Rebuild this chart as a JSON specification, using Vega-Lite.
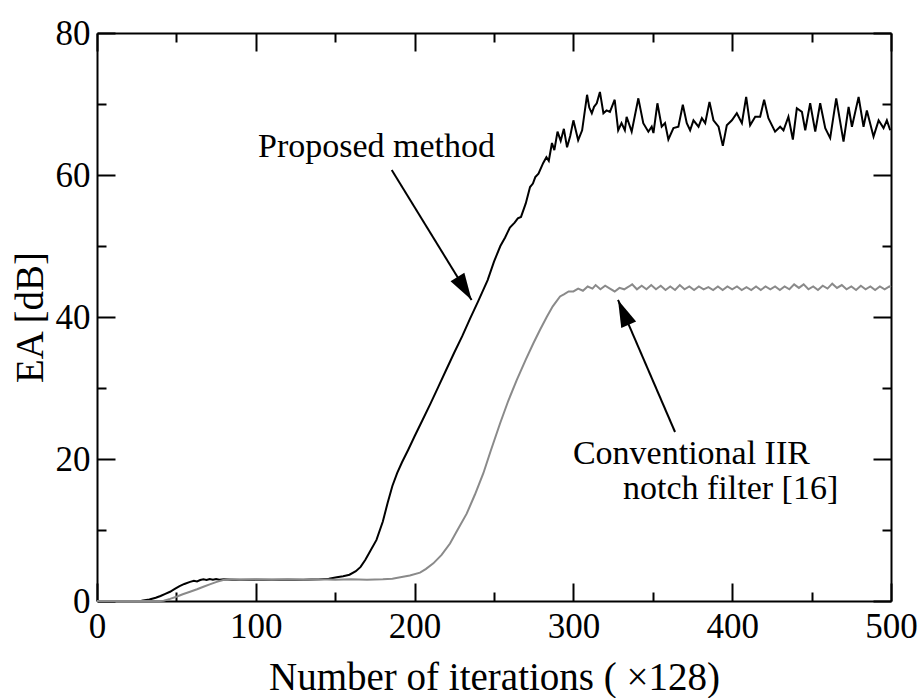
{
  "$schema": "https://vega.github.io/schema/vega-lite/v6.json",
  "width": 794,
  "height": 568,
  "autosize": {"type": "none"},
  "padding": {"left": 97, "top": 33, "right": 32, "bottom": 97},
  "background": "white",
  "config": {
    "view": {"stroke": null},
    "axis": {
      "domainColor": "black", "domainWidth": 2, "tickColor": "black", "tickWidth": 2,
      "labelColor": "black", "titleColor": "black",
      "labelFont": "Liberation Serif", "titleFont": "Liberation Serif",
      "labelFontSize": 35, "titleFontSize": 39, "titleFontWeight": "normal",
      "grid": false, "labelOverlap": false, "labelFlush": false
    },
    "text": {"font": "Liberation Serif"}
  },
  "datasets": {
    "curves": [
      {"series": "Proposed method", "x": 0, "y": 0},
      {"series": "Proposed method", "x": 10, "y": 0},
      {"series": "Proposed method", "x": 20, "y": 0},
      {"series": "Proposed method", "x": 28, "y": 0.05},
      {"series": "Proposed method", "x": 33, "y": 0.2},
      {"series": "Proposed method", "x": 37, "y": 0.45},
      {"series": "Proposed method", "x": 40, "y": 0.7},
      {"series": "Proposed method", "x": 43, "y": 1.0},
      {"series": "Proposed method", "x": 46, "y": 1.3},
      {"series": "Proposed method", "x": 49, "y": 1.7},
      {"series": "Proposed method", "x": 52, "y": 2.1},
      {"series": "Proposed method", "x": 55, "y": 2.4},
      {"series": "Proposed method", "x": 58.6, "y": 2.7},
      {"series": "Proposed method", "x": 61, "y": 2.85},
      {"series": "Proposed method", "x": 63, "y": 2.75},
      {"series": "Proposed method", "x": 65, "y": 2.95},
      {"series": "Proposed method", "x": 67, "y": 3.05},
      {"series": "Proposed method", "x": 69, "y": 2.95},
      {"series": "Proposed method", "x": 71, "y": 3.1},
      {"series": "Proposed method", "x": 73, "y": 3.0},
      {"series": "Proposed method", "x": 75, "y": 3.1},
      {"series": "Proposed method", "x": 77, "y": 3.0},
      {"series": "Proposed method", "x": 80, "y": 3.05},
      {"series": "Proposed method", "x": 85, "y": 3.0},
      {"series": "Proposed method", "x": 90, "y": 3.0},
      {"series": "Proposed method", "x": 100, "y": 3.0},
      {"series": "Proposed method", "x": 110, "y": 3.0},
      {"series": "Proposed method", "x": 120, "y": 3.0},
      {"series": "Proposed method", "x": 130, "y": 3.0},
      {"series": "Proposed method", "x": 140, "y": 3.05},
      {"series": "Proposed method", "x": 146, "y": 3.15},
      {"series": "Proposed method", "x": 151, "y": 3.35},
      {"series": "Proposed method", "x": 155, "y": 3.5},
      {"series": "Proposed method", "x": 159, "y": 3.7},
      {"series": "Proposed method", "x": 163, "y": 4.2},
      {"series": "Proposed method", "x": 166, "y": 4.8},
      {"series": "Proposed method", "x": 169, "y": 5.8},
      {"series": "Proposed method", "x": 172, "y": 7.0},
      {"series": "Proposed method", "x": 176, "y": 8.6},
      {"series": "Proposed method", "x": 180, "y": 11.2},
      {"series": "Proposed method", "x": 183, "y": 13.8},
      {"series": "Proposed method", "x": 186, "y": 16.2},
      {"series": "Proposed method", "x": 189, "y": 18.0},
      {"series": "Proposed method", "x": 192, "y": 19.5},
      {"series": "Proposed method", "x": 196, "y": 21.3},
      {"series": "Proposed method", "x": 200, "y": 23.2},
      {"series": "Proposed method", "x": 205, "y": 25.5},
      {"series": "Proposed method", "x": 210, "y": 27.8},
      {"series": "Proposed method", "x": 215, "y": 30.2},
      {"series": "Proposed method", "x": 220, "y": 32.6},
      {"series": "Proposed method", "x": 225, "y": 35.0},
      {"series": "Proposed method", "x": 230, "y": 37.3},
      {"series": "Proposed method", "x": 235, "y": 39.8},
      {"series": "Proposed method", "x": 240, "y": 42.2},
      {"series": "Proposed method", "x": 246, "y": 45.2},
      {"series": "Proposed method", "x": 250, "y": 47.8},
      {"series": "Proposed method", "x": 254, "y": 50.0},
      {"series": "Proposed method", "x": 257, "y": 51.2},
      {"series": "Proposed method", "x": 260, "y": 52.6},
      {"series": "Proposed method", "x": 263, "y": 53.3},
      {"series": "Proposed method", "x": 265, "y": 53.9},
      {"series": "Proposed method", "x": 267, "y": 54.1},
      {"series": "Proposed method", "x": 270, "y": 56.0},
      {"series": "Proposed method", "x": 272.7, "y": 58.3},
      {"series": "Proposed method", "x": 274.5, "y": 58.8},
      {"series": "Proposed method", "x": 276, "y": 59.7},
      {"series": "Proposed method", "x": 278, "y": 60.2},
      {"series": "Proposed method", "x": 281, "y": 61.7},
      {"series": "Proposed method", "x": 283, "y": 62.5},
      {"series": "Proposed method", "x": 284.5, "y": 62.0},
      {"series": "Proposed method", "x": 286.5, "y": 64.5},
      {"series": "Proposed method", "x": 288, "y": 63.5},
      {"series": "Proposed method", "x": 290, "y": 66.1},
      {"series": "Proposed method", "x": 292, "y": 64.8},
      {"series": "Proposed method", "x": 294, "y": 66.5},
      {"series": "Proposed method", "x": 296, "y": 63.9},
      {"series": "Proposed method", "x": 298, "y": 65.5},
      {"series": "Proposed method", "x": 300, "y": 67.7},
      {"series": "Proposed method", "x": 303, "y": 64.9},
      {"series": "Proposed method", "x": 305.5, "y": 66.3},
      {"series": "Proposed method", "x": 308.6, "y": 71.3},
      {"series": "Proposed method", "x": 310, "y": 69.5},
      {"series": "Proposed method", "x": 311.6, "y": 68.7},
      {"series": "Proposed method", "x": 313, "y": 69.6},
      {"series": "Proposed method", "x": 314.7, "y": 70.1},
      {"series": "Proposed method", "x": 316.7, "y": 71.7},
      {"series": "Proposed method", "x": 318.9, "y": 68.7},
      {"series": "Proposed method", "x": 320.9, "y": 69.1},
      {"series": "Proposed method", "x": 323, "y": 68.9},
      {"series": "Proposed method", "x": 326, "y": 70.6},
      {"series": "Proposed method", "x": 328.2, "y": 66.3},
      {"series": "Proposed method", "x": 330.3, "y": 67.3},
      {"series": "Proposed method", "x": 332.4, "y": 66.3},
      {"series": "Proposed method", "x": 333.5, "y": 68.2},
      {"series": "Proposed method", "x": 336.7, "y": 66.1},
      {"series": "Proposed method", "x": 340.9, "y": 70.8},
      {"series": "Proposed method", "x": 344, "y": 67.3},
      {"series": "Proposed method", "x": 347.2, "y": 66.1},
      {"series": "Proposed method", "x": 349.3, "y": 66.8},
      {"series": "Proposed method", "x": 350.4, "y": 65.9},
      {"series": "Proposed method", "x": 352.9, "y": 70.1},
      {"series": "Proposed method", "x": 355.6, "y": 66.8},
      {"series": "Proposed method", "x": 357.7, "y": 67.3},
      {"series": "Proposed method", "x": 359.8, "y": 65.0},
      {"series": "Proposed method", "x": 363, "y": 66.6},
      {"series": "Proposed method", "x": 366.1, "y": 66.8},
      {"series": "Proposed method", "x": 368.9, "y": 69.9},
      {"series": "Proposed method", "x": 371.4, "y": 67.3},
      {"series": "Proposed method", "x": 373.5, "y": 66.3},
      {"series": "Proposed method", "x": 375.6, "y": 67.7},
      {"series": "Proposed method", "x": 378.8, "y": 66.8},
      {"series": "Proposed method", "x": 380.9, "y": 68.0},
      {"series": "Proposed method", "x": 383, "y": 67.3},
      {"series": "Proposed method", "x": 385.7, "y": 70.3},
      {"series": "Proposed method", "x": 388.2, "y": 67.7},
      {"series": "Proposed method", "x": 391.4, "y": 66.8},
      {"series": "Proposed method", "x": 394.1, "y": 64.1},
      {"series": "Proposed method", "x": 396.6, "y": 67.0},
      {"series": "Proposed method", "x": 399.8, "y": 67.7},
      {"series": "Proposed method", "x": 402.9, "y": 68.7},
      {"series": "Proposed method", "x": 406.1, "y": 67.3},
      {"series": "Proposed method", "x": 408.8, "y": 71.0},
      {"series": "Proposed method", "x": 411.3, "y": 67.0},
      {"series": "Proposed method", "x": 414.5, "y": 68.2},
      {"series": "Proposed method", "x": 417.6, "y": 68.2},
      {"series": "Proposed method", "x": 420.1, "y": 70.6},
      {"series": "Proposed method", "x": 422.8, "y": 68.0},
      {"series": "Proposed method", "x": 427, "y": 66.1},
      {"series": "Proposed method", "x": 430.2, "y": 66.8},
      {"series": "Proposed method", "x": 432.3, "y": 66.3},
      {"series": "Proposed method", "x": 435.4, "y": 68.2},
      {"series": "Proposed method", "x": 438.2, "y": 65.0},
      {"series": "Proposed method", "x": 440.7, "y": 69.4},
      {"series": "Proposed method", "x": 443.9, "y": 68.9},
      {"series": "Proposed method", "x": 446, "y": 66.3},
      {"series": "Proposed method", "x": 449.1, "y": 70.1},
      {"series": "Proposed method", "x": 452.3, "y": 66.1},
      {"series": "Proposed method", "x": 455.4, "y": 70.1},
      {"series": "Proposed method", "x": 458.6, "y": 66.6},
      {"series": "Proposed method", "x": 461.7, "y": 65.2},
      {"series": "Proposed method", "x": 465.5, "y": 70.8},
      {"series": "Proposed method", "x": 470.1, "y": 64.7},
      {"series": "Proposed method", "x": 473.3, "y": 69.6},
      {"series": "Proposed method", "x": 475.4, "y": 66.8},
      {"series": "Proposed method", "x": 479.6, "y": 71.0},
      {"series": "Proposed method", "x": 482.7, "y": 66.8},
      {"series": "Proposed method", "x": 484.8, "y": 69.1},
      {"series": "Proposed method", "x": 489, "y": 65.4},
      {"series": "Proposed method", "x": 492.2, "y": 67.7},
      {"series": "Proposed method", "x": 495.3, "y": 66.6},
      {"series": "Proposed method", "x": 497.4, "y": 67.7},
      {"series": "Proposed method", "x": 499.5, "y": 66.3},
      {"series": "Conventional", "x": 0, "y": 0},
      {"series": "Conventional", "x": 20, "y": 0},
      {"series": "Conventional", "x": 40, "y": 0},
      {"series": "Conventional", "x": 42, "y": 0.05},
      {"series": "Conventional", "x": 46, "y": 0.3},
      {"series": "Conventional", "x": 50, "y": 0.6},
      {"series": "Conventional", "x": 54, "y": 0.95},
      {"series": "Conventional", "x": 58.6, "y": 1.3},
      {"series": "Conventional", "x": 63, "y": 1.65},
      {"series": "Conventional", "x": 67, "y": 2.0},
      {"series": "Conventional", "x": 71, "y": 2.35},
      {"series": "Conventional", "x": 75.4, "y": 2.7},
      {"series": "Conventional", "x": 80, "y": 3.0},
      {"series": "Conventional", "x": 85, "y": 3.05},
      {"series": "Conventional", "x": 90, "y": 3.0},
      {"series": "Conventional", "x": 100, "y": 3.05},
      {"series": "Conventional", "x": 110, "y": 3.0},
      {"series": "Conventional", "x": 120, "y": 3.05},
      {"series": "Conventional", "x": 130, "y": 3.0},
      {"series": "Conventional", "x": 140, "y": 3.05},
      {"series": "Conventional", "x": 150, "y": 3.0},
      {"series": "Conventional", "x": 160, "y": 3.05},
      {"series": "Conventional", "x": 170, "y": 3.0},
      {"series": "Conventional", "x": 180, "y": 3.05},
      {"series": "Conventional", "x": 186, "y": 3.15},
      {"series": "Conventional", "x": 191, "y": 3.35},
      {"series": "Conventional", "x": 197, "y": 3.6},
      {"series": "Conventional", "x": 203.4, "y": 4.0},
      {"series": "Conventional", "x": 207, "y": 4.5},
      {"series": "Conventional", "x": 211.8, "y": 5.3},
      {"series": "Conventional", "x": 217, "y": 6.5},
      {"series": "Conventional", "x": 222.3, "y": 8.1},
      {"series": "Conventional", "x": 227, "y": 10.0},
      {"series": "Conventional", "x": 232.8, "y": 12.3},
      {"series": "Conventional", "x": 238, "y": 15.0},
      {"series": "Conventional", "x": 243.3, "y": 18.0},
      {"series": "Conventional", "x": 248, "y": 21.2},
      {"series": "Conventional", "x": 253.8, "y": 25.0},
      {"series": "Conventional", "x": 259, "y": 28.2},
      {"series": "Conventional", "x": 264.3, "y": 31.1},
      {"series": "Conventional", "x": 270, "y": 34.0},
      {"series": "Conventional", "x": 274.8, "y": 36.3},
      {"series": "Conventional", "x": 279, "y": 38.2},
      {"series": "Conventional", "x": 283.2, "y": 40.0},
      {"series": "Conventional", "x": 287, "y": 41.5},
      {"series": "Conventional", "x": 291.6, "y": 42.9},
      {"series": "Conventional", "x": 294, "y": 43.2},
      {"series": "Conventional", "x": 297, "y": 43.6},
      {"series": "Conventional", "x": 300, "y": 43.6},
      {"series": "Conventional", "x": 303, "y": 44.0},
      {"series": "Conventional", "x": 306, "y": 43.7},
      {"series": "Conventional", "x": 309, "y": 44.3},
      {"series": "Conventional", "x": 312, "y": 44.0},
      {"series": "Conventional", "x": 314, "y": 44.5},
      {"series": "Conventional", "x": 317, "y": 43.9},
      {"series": "Conventional", "x": 320, "y": 44.4},
      {"series": "Conventional", "x": 323, "y": 44.0},
      {"series": "Conventional", "x": 326, "y": 43.6},
      {"series": "Conventional", "x": 329, "y": 44.1},
      {"series": "Conventional", "x": 332, "y": 43.9},
      {"series": "Conventional", "x": 335, "y": 44.3},
      {"series": "Conventional", "x": 337, "y": 44.6},
      {"series": "Conventional", "x": 340, "y": 43.9},
      {"series": "Conventional", "x": 343, "y": 44.4},
      {"series": "Conventional", "x": 346, "y": 43.9},
      {"series": "Conventional", "x": 349, "y": 44.5},
      {"series": "Conventional", "x": 352, "y": 43.9},
      {"series": "Conventional", "x": 355, "y": 44.4},
      {"series": "Conventional", "x": 358, "y": 43.8},
      {"series": "Conventional", "x": 361, "y": 44.3},
      {"series": "Conventional", "x": 364, "y": 43.8},
      {"series": "Conventional", "x": 367, "y": 44.5},
      {"series": "Conventional", "x": 370, "y": 43.9},
      {"series": "Conventional", "x": 373, "y": 44.3},
      {"series": "Conventional", "x": 376, "y": 43.8},
      {"series": "Conventional", "x": 379, "y": 44.3},
      {"series": "Conventional", "x": 382, "y": 43.9},
      {"series": "Conventional", "x": 385, "y": 44.2},
      {"series": "Conventional", "x": 388, "y": 43.8},
      {"series": "Conventional", "x": 391, "y": 44.3},
      {"series": "Conventional", "x": 394, "y": 43.8},
      {"series": "Conventional", "x": 397, "y": 44.3},
      {"series": "Conventional", "x": 400, "y": 43.9},
      {"series": "Conventional", "x": 403, "y": 44.3},
      {"series": "Conventional", "x": 406, "y": 43.8},
      {"series": "Conventional", "x": 409, "y": 44.2},
      {"series": "Conventional", "x": 412, "y": 43.8},
      {"series": "Conventional", "x": 415, "y": 44.3},
      {"series": "Conventional", "x": 418, "y": 43.8},
      {"series": "Conventional", "x": 421, "y": 44.3},
      {"series": "Conventional", "x": 424, "y": 43.9},
      {"series": "Conventional", "x": 427, "y": 44.3},
      {"series": "Conventional", "x": 430, "y": 43.8},
      {"series": "Conventional", "x": 433, "y": 44.3},
      {"series": "Conventional", "x": 436, "y": 43.9},
      {"series": "Conventional", "x": 439, "y": 44.6},
      {"series": "Conventional", "x": 442, "y": 44.1},
      {"series": "Conventional", "x": 445, "y": 44.6},
      {"series": "Conventional", "x": 448, "y": 43.9},
      {"series": "Conventional", "x": 451, "y": 44.3},
      {"series": "Conventional", "x": 454, "y": 43.8},
      {"series": "Conventional", "x": 457, "y": 44.4},
      {"series": "Conventional", "x": 460, "y": 44.0},
      {"series": "Conventional", "x": 463, "y": 44.7},
      {"series": "Conventional", "x": 466, "y": 44.1},
      {"series": "Conventional", "x": 469, "y": 44.5},
      {"series": "Conventional", "x": 472, "y": 43.9},
      {"series": "Conventional", "x": 475, "y": 44.3},
      {"series": "Conventional", "x": 478, "y": 43.8},
      {"series": "Conventional", "x": 481, "y": 44.4},
      {"series": "Conventional", "x": 484, "y": 43.9},
      {"series": "Conventional", "x": 487, "y": 44.3},
      {"series": "Conventional", "x": 490, "y": 43.8},
      {"series": "Conventional", "x": 493, "y": 44.3},
      {"series": "Conventional", "x": 496, "y": 43.9},
      {"series": "Conventional", "x": 499, "y": 44.3},
      {"series": "Conventional", "x": 500, "y": 44.2}
    ],
    "arrows": [
      {"id": "a1", "x": 185.6, "y": 60.7, "x2": 235.9, "y2": 42.4},
      {"id": "a2", "x": 364, "y": 23.8, "x2": 328.1, "y2": 42.4}
    ],
    "labels": [
      {"x": 101.4, "y": 62.5, "text": "Proposed method"},
      {"x": 299.7, "y": 19.3, "text": "Conventional IIR"},
      {"x": 331.2, "y": 14.4, "text": "notch filter [16]"}
    ]
  },
  "layer": [
    {
      "data": {"name": "curves"},
      "mark": {"type": "line", "strokeWidth": 2},
      "encoding": {
        "x": {
          "field": "x", "type": "quantitative",
          "scale": {"domain": [0, 500], "nice": false, "zero": false},
          "axis": {
            "orient": "bottom",
            "values": [0, 50, 100, 150, 200, 250, 300, 350, 400, 450, 500],
            "tickSize": {"condition": {"test": "datum.value % 100 === 0", "value": -18}, "value": -9},
            "labelExpr": "datum.value % 100 === 0 ? datum.label : ''",
            "labelPadding": 26,
            "title": "Number of iterations ( \u00d7128)",
            "titleY": 88, "titleBaseline": "alphabetic"
          }
        },
        "y": {
          "field": "y", "type": "quantitative",
          "scale": {"domain": [0, 80], "nice": false, "zero": false},
          "axis": {
            "orient": "left",
            "values": [0, 10, 20, 30, 40, 50, 60, 70, 80],
            "tickSize": {"condition": {"test": "datum.value % 20 === 0", "value": -18}, "value": -9},
            "labelExpr": "datum.value % 20 === 0 ? datum.label : ''",
            "labelPadding": 25,
            "title": "EA [dB]",
            "titleX": -55, "titleBaseline": "alphabetic"
          }
        },
        "color": {
          "field": "series", "type": "nominal",
          "scale": {"domain": ["Proposed method", "Conventional"], "range": ["#000000", "#8a8a8a"]},
          "legend": null
        }
      }
    },
    {
      "data": {"name": "arrows"},
      "mark": {"type": "rule", "strokeWidth": 2, "color": "black"},
      "encoding": {
        "x": {
          "field": "x", "type": "quantitative",
          "axis": {
            "orient": "top",
            "values": [0, 50, 100, 150, 200, 250, 300, 350, 400, 450, 500],
            "tickSize": {"condition": {"test": "datum.value % 100 === 0", "value": -18}, "value": -9},
            "labels": false, "title": null
          }
        },
        "y": {
          "field": "y", "type": "quantitative",
          "axis": {
            "orient": "right",
            "values": [0, 10, 20, 30, 40, 50, 60, 70, 80],
            "tickSize": {"condition": {"test": "datum.value % 20 === 0", "value": -18}, "value": -9},
            "labels": false, "title": null
          }
        },
        "x2": {"field": "x2"},
        "y2": {"field": "y2"}
      }
    },
    {
      "data": {"name": "arrows"},
      "transform": [{"filter": "datum.id === 'a1'"}],
      "mark": {"type": "point", "shape": "M0,0 L-0.6,2 L0.6,2 Z", "filled": true, "color": "black", "opacity": 1, "size": 729, "angle": 148.4},
      "encoding": {
        "x": {"field": "x2", "type": "quantitative", "axis": null},
        "y": {"field": "y2", "type": "quantitative", "axis": null}
      }
    },
    {
      "data": {"name": "arrows"},
      "transform": [{"filter": "datum.id === 'a2'"}],
      "mark": {"type": "point", "shape": "M0,0 L-0.6,2 L0.6,2 Z", "filled": true, "color": "black", "opacity": 1, "size": 729, "angle": 336.7},
      "encoding": {
        "x": {"field": "x2", "type": "quantitative", "axis": null},
        "y": {"field": "y2", "type": "quantitative", "axis": null}
      }
    },
    {
      "data": {"name": "labels"},
      "mark": {"type": "text", "align": "left", "baseline": "alphabetic", "fontSize": 34, "font": "Liberation Serif", "color": "black"},
      "encoding": {
        "x": {"field": "x", "type": "quantitative", "axis": null},
        "y": {"field": "y", "type": "quantitative", "axis": null},
        "text": {"field": "text"}
      }
    }
  ],
  "resolve": {"axis": {"x": "independent", "y": "independent"}}
}
